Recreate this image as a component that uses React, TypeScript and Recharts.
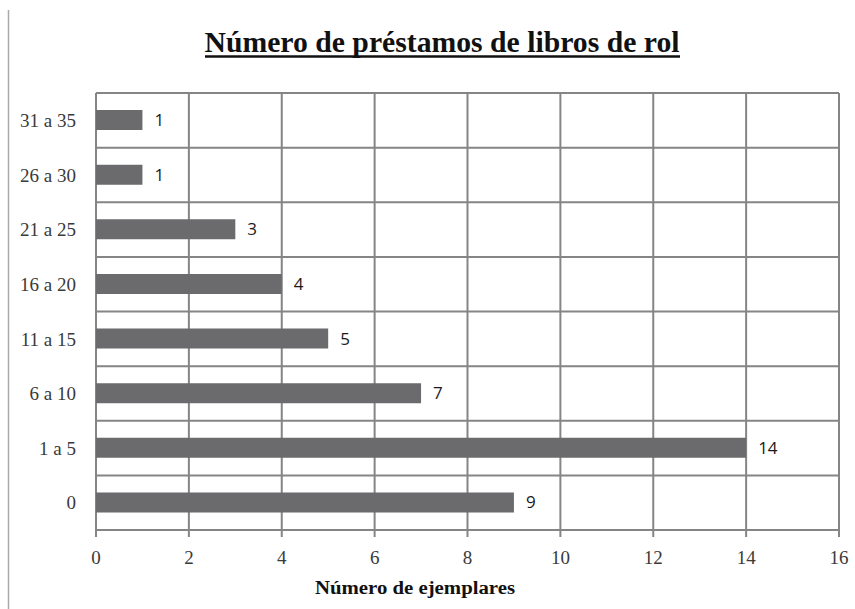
import React from 'react';
import { BarChart, Bar, XAxis, YAxis, CartesianGrid, LabelList } from 'recharts';

const categories = ['0', '1 a 5', '6 a 10', '11 a 15', '16 a 20', '21 a 25', '26 a 30', '31 a 35'];
const ejemplares = [9, 14, 7, 5, 4, 3, 1, 1];
const xTicks = [0, 2, 4, 6, 8, 10, 12, 14, 16];

const data = categories.map((rango, i) => ({ rango, ejemplares: ejemplares[i] }));

const GRID = '#858585';
const SERIF = '"Liberation Serif", "Times New Roman", serif';

// horizontal grid lines sit on the category boundaries, not on the tick centres
const bandLines = (props: any) => {
  const { offset } = props;
  const n = categories.length;
  return Array.from({ length: n + 1 }, (_, i) => offset.top + (i * offset.height) / n);
};

export default function App() {
  return (
    <div style={{ position: 'absolute', left: 0, top: 0, width: 855, height: 609, background: '#fff' }}>
      <BarChart
        width={855}
        height={609}
        data={data}
        layout="vertical"
        margin={{ top: 93, right: 16, bottom: 0, left: 0 }}
        barSize={20}
      >
        <CartesianGrid
          stroke={GRID}
          strokeWidth={2}
          horizontalCoordinatesGenerator={bandLines}
        />
        <XAxis
          type="number"
          domain={[0, 16]}
          ticks={xTicks}
          height={79}
          axisLine={{ stroke: GRID, strokeWidth: 2 }}
          tickLine={{ stroke: GRID, strokeWidth: 2 }}
          tickSize={7}
          tickMargin={14}
          tick={{ fill: '#3a3a3a', fontSize: 19, fontFamily: SERIF }}
        />
        <YAxis
          type="category"
          dataKey="rango"
          reversed
          width={96}
          axisLine={false}
          tickLine={false}
          tickSize={0}
          tickMargin={20}
          tick={{ fill: '#3a3a3a', fontSize: 19, fontFamily: SERIF }}
        />
        <Bar dataKey="ejemplares" fill="#6b6b6d" isAnimationActive={false}>
          <LabelList
            dataKey="ejemplares"
            position="right"
            offset={12}
            fill="#1a1a1a"
            fontSize={17}
            fontFamily='"Open Sans", sans-serif'
          />
        </Bar>
      </BarChart>
      <svg
        width={855}
        height={609}
        style={{ position: 'absolute', left: 0, top: 0, pointerEvents: 'none' }}
      >
        <line x1={8.5} y1={10} x2={8.5} y2={609} stroke="#aaa" strokeWidth={1.5} />
        <text
          x={442}
          y={52}
          textAnchor="middle"
          fontFamily={SERIF}
          fontWeight="bold"
          fontSize={29}
          textLength={475}
          lengthAdjust="spacingAndGlyphs"
          fill="#111"
        >
          Número de préstamos de libros de rol
        </text>
        <line x1={205} y1={56.5} x2={680} y2={56.5} stroke="#111" strokeWidth={2.5} />
        <text
          x={415}
          y={594}
          textAnchor="middle"
          fontFamily={SERIF}
          fontWeight="bold"
          fontSize={18}
          textLength={200}
          lengthAdjust="spacingAndGlyphs"
          fill="#111"
        >
          Número de ejemplares
        </text>
      </svg>
    </div>
  );
}
